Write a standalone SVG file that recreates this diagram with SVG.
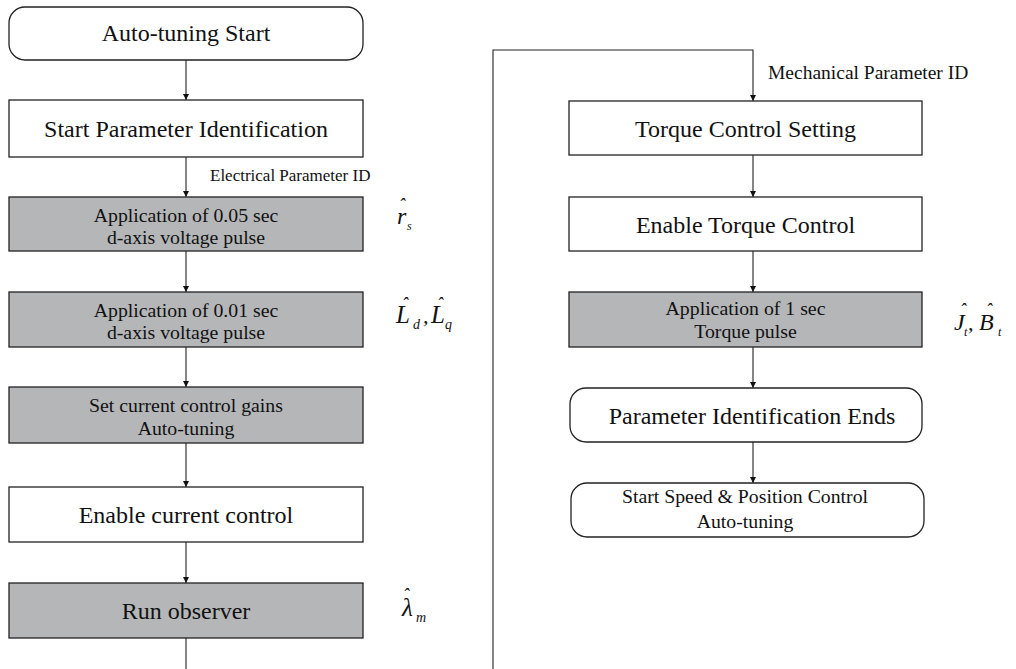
<svg xmlns="http://www.w3.org/2000/svg" width="1016" height="669" viewBox="0 0 1016 669">
<style>
.box{fill:#ffffff;stroke:#222;stroke-width:1.3}
.grey{fill:#b5b6b8;stroke:#222;stroke-width:1.3}
.t{font-family:"Liberation Serif","DejaVu Serif",serif;fill:#111;text-anchor:middle}
.big{font-size:24px}
.mid{font-size:19.8px}
.lab{font-family:"Liberation Serif","DejaVu Serif",serif;fill:#111}
.m{font-family:"Liberation Serif","DejaVu Serif",serif;font-style:italic;fill:#111}
.c{fill:none;stroke:#222;stroke-width:1.1}
</style>
<defs>
<marker id="ah" viewBox="0 0 10 10" refX="10" refY="5" markerWidth="6" markerHeight="7" markerUnits="userSpaceOnUse" orient="auto">
<path d="M0,0 L10,5 L0,10 z" fill="#111"/>
</marker>
</defs>
<rect width="1016" height="669" fill="#ffffff"/>
<g id="connectors">
<line class="c" x1="186" y1="60" x2="186" y2="100" marker-end="url(#ah)"/>
<line class="c" x1="186" y1="157" x2="186" y2="197" marker-end="url(#ah)"/>
<line class="c" x1="186" y1="251" x2="186" y2="292" marker-end="url(#ah)"/>
<line class="c" x1="186" y1="347" x2="186" y2="387" marker-end="url(#ah)"/>
<line class="c" x1="186" y1="443" x2="186" y2="487" marker-end="url(#ah)"/>
<line class="c" x1="186" y1="542" x2="186" y2="583" marker-end="url(#ah)"/>
<line class="c" x1="186" y1="638" x2="186" y2="669"/>
<path class="c" d="M493,669 V50 H753 V101" marker-end="url(#ah)"/>
<line class="c" x1="753" y1="155" x2="753" y2="197" marker-end="url(#ah)"/>
<line class="c" x1="753" y1="251" x2="753" y2="292" marker-end="url(#ah)"/>
<line class="c" x1="753" y1="347" x2="753" y2="388" marker-end="url(#ah)"/>
<line class="c" x1="753" y1="442" x2="753" y2="483" marker-end="url(#ah)"/>
<text class="lab" font-size="17" x="210" y="181">Electrical Parameter ID</text>
<text class="lab" font-size="19.5" x="768" y="79">Mechanical Parameter ID</text>
</g>
<g id="n_start">
<rect class="box" x="9" y="7" width="354" height="53" rx="16" ry="16"/>
<text class="t big" x="186" y="41">Auto-tuning Start</text>
</g>
<g id="n_spi">
<rect class="box" x="9" y="100" width="354" height="57"/>
<text class="t big" x="186" y="137">Start Parameter Identification</text>
</g>
<g id="n_pulse005">
<rect class="grey" x="9" y="197" width="354" height="54"/>
<text class="t mid" x="186" y="222">Application of 0.05 sec</text>
<text class="t mid" x="186" y="244">d-axis voltage pulse</text>
</g>
<g id="n_pulse001">
<rect class="grey" x="9" y="292" width="354" height="55"/>
<text class="t mid" x="186" y="317">Application of 0.01 sec</text>
<text class="t mid" x="186" y="339">d-axis voltage pulse</text>
</g>
<g id="n_gains">
<rect class="grey" x="9" y="387" width="354" height="56"/>
<text class="t mid" x="186" y="412">Set current control gains</text>
<text class="t mid" x="186" y="435">Auto-tuning</text>
</g>
<g id="n_enable_cc">
<rect class="box" x="9" y="487" width="354" height="55"/>
<text class="t big" x="186" y="523">Enable current control</text>
</g>
<g id="n_observer">
<rect class="grey" x="9" y="583" width="354" height="55"/>
<text class="t big" x="186" y="619">Run observer</text>
</g>
<g id="n_tcs">
<rect class="box" x="569" y="101" width="353" height="54"/>
<text class="t big" x="745.5" y="137">Torque Control Setting</text>
</g>
<g id="n_etc">
<rect class="box" x="569" y="197" width="353" height="54"/>
<text class="t big" x="745.5" y="233">Enable Torque Control</text>
</g>
<g id="n_tpulse">
<rect class="grey" x="569" y="292" width="353" height="55"/>
<text class="t mid" x="745.5" y="315">Application of 1 sec</text>
<text class="t mid" x="745.5" y="338">Torque pulse</text>
</g>
<g id="n_pie">
<rect class="box" x="570" y="388" width="352" height="54" rx="16" ry="16"/>
<text class="t big" x="752" y="424">Parameter Identification Ends</text>
</g>
<g id="n_spc">
<rect class="box" x="571" y="483" width="353" height="54" rx="16" ry="16"/>
<text class="t mid" x="745" y="503">Start Speed &amp; Position Control</text>
<text class="t mid" x="745" y="528">Auto-tuning</text>
</g>
<g id="math">
<text class="m" font-size="24"><tspan x="397" y="224">r</tspan><tspan x="399" y="211" font-size="18">ˆ</tspan><tspan x="407" y="230" font-size="12">s</tspan></text>
<text class="m" font-size="25"><tspan x="396" y="323">L</tspan><tspan x="402" y="310" font-size="18">ˆ</tspan><tspan x="413" y="329" font-size="14">d</tspan><tspan x="423" y="323" font-size="22">,</tspan><tspan x="431" y="323">L</tspan><tspan x="437" y="310" font-size="18">ˆ</tspan><tspan x="445" y="329" font-size="14">q</tspan></text>
<text class="m" font-size="25"><tspan x="402" y="616">λ</tspan><tspan x="403" y="601" font-size="18">ˆ</tspan><tspan x="416" y="622" font-size="14">m</tspan></text>
<text class="m" font-size="24"><tspan x="954" y="330">J</tspan><tspan x="960" y="316" font-size="18">ˆ</tspan><tspan x="964" y="336" font-size="12">t</tspan><tspan x="968" y="330" font-size="22">,</tspan><tspan x="979" y="330">B</tspan><tspan x="986" y="316" font-size="18">ˆ</tspan><tspan x="998" y="336" font-size="12">t</tspan></text>
</g>
</svg>
